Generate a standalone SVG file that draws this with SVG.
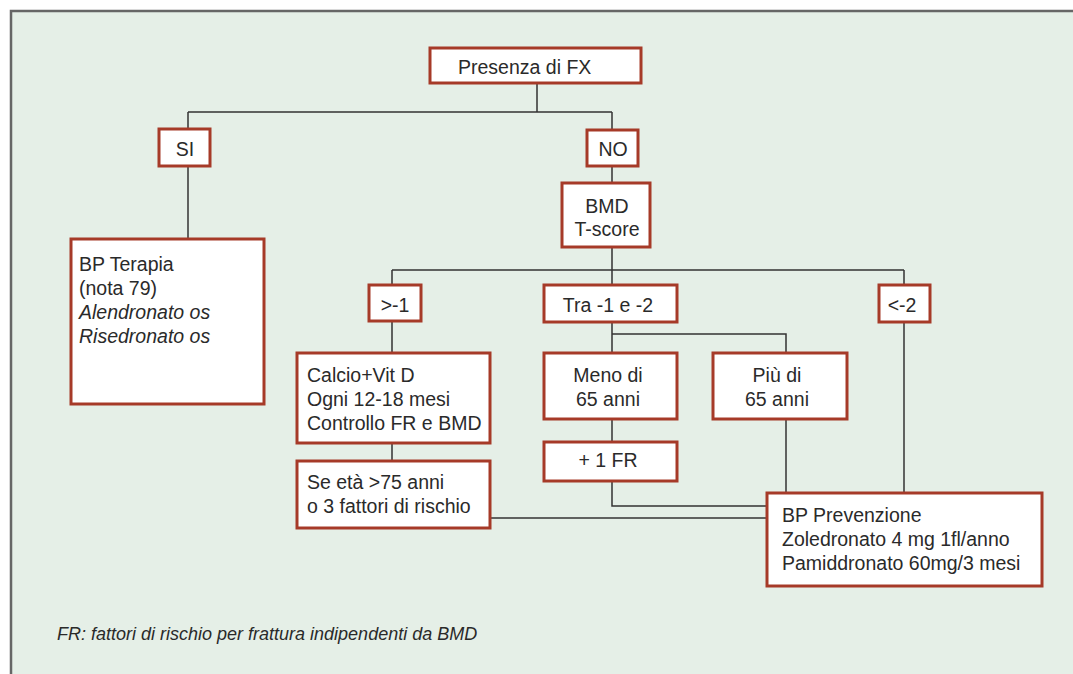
<svg xmlns="http://www.w3.org/2000/svg" width="1073" height="674" viewBox="0 0 1073 674">
<style>
.bg{fill:#e5efe7;stroke:none}
.frame{fill:none;stroke:#666;stroke-width:2.5}
.box{fill:#fff;stroke:#a63a28;stroke-width:3}
.ln{fill:none;stroke:#333;stroke-width:1.5}
text{font-family:"Liberation Sans",Arial,sans-serif;font-size:19.5px;fill:#2a2a2a}
.c{text-anchor:middle}
.i{font-style:italic}
.note{font-size:18px}
</style>
<rect x="0" y="0" width="1073" height="674" fill="#fff"/>
<rect class="bg" x="11" y="11" width="1062" height="663"/>
<path class="frame" d="M11,674 V11 H1073"/>
<g id="connectors">
<path class="ln" d="M537,83 V112 M188,112 H612 M188,112 V129 M612,112 V130"/>
<path class="ln" d="M188,166 V239"/>
<path class="ln" d="M612,166 V183"/>
<path class="ln" d="M612,247 V270 M392,270 H904 M392,270 V285 M612,270 V285 M904,270 V285"/>
<path class="ln" d="M392,321 V353 M392,443 V461"/>
<path class="ln" d="M612,322 V353 M612,334 H786 V353"/>
<path class="ln" d="M612,419 V442"/>
<path class="ln" d="M612,481 V506 H767"/>
<path class="ln" d="M490,518 H767"/>
<path class="ln" d="M786,419 V493"/>
<path class="ln" d="M904,322 V493"/>
</g>
<g id="presenza"><rect class="box" x="430" y="48" width="211" height="35"/><text x="458" y="74">Presenza di FX</text></g>
<g id="si"><rect class="box" x="159" y="129" width="51" height="37"/><text class="c" x="185" y="156">SI</text></g>
<g id="no"><rect class="box" x="587" y="130" width="51" height="36"/><text class="c" x="613" y="156">NO</text></g>
<g id="bmd"><rect class="box" x="562" y="183" width="88" height="64"/><text class="c" x="607" y="213">BMD</text><text class="c" x="607" y="236">T-score</text></g>
<g id="bpterapia"><rect class="box" x="71" y="239" width="193" height="165"/>
<text x="79" y="271">BP Terapia</text><text x="79" y="295">(nota 79)</text><text class="i" x="79" y="319">Alendronato os</text><text class="i" x="79" y="343">Risedronato os</text></g>
<g id="gt1"><rect class="box" x="369" y="285" width="52" height="36"/><text class="c" x="395" y="312">&gt;-1</text></g>
<g id="tra"><rect class="box" x="544" y="285" width="133" height="37"/><text class="c" x="608" y="312">Tra -1 e -2</text></g>
<g id="lt2"><rect class="box" x="879" y="285" width="51" height="37"/><text class="c" x="902" y="312">&lt;-2</text></g>
<g id="calcio"><rect class="box" x="297" y="353" width="193" height="90"/>
<text x="307" y="382">Calcio+Vit D</text><text x="307" y="406">Ogni 12-18 mesi</text><text x="307" y="430">Controllo FR e BMD</text></g>
<g id="meno"><rect class="box" x="544" y="353" width="133" height="66"/><text class="c" x="608" y="382">Meno di</text><text class="c" x="608" y="406">65 anni</text></g>
<g id="piu"><rect class="box" x="713" y="353" width="134" height="66"/><text class="c" x="777" y="382">Più di</text><text class="c" x="777" y="406">65 anni</text></g>
<g id="fr1"><rect class="box" x="544" y="442" width="133" height="39"/><text class="c" x="608" y="467">+ 1 FR</text></g>
<g id="seeta"><rect class="box" x="297" y="461" width="193" height="67"/><text x="307" y="489">Se età &gt;75 anni</text><text x="307" y="513">o 3 fattori di rischio</text></g>
<g id="bpprev"><rect class="box" x="767" y="493" width="275" height="93"/>
<text x="782" y="522">BP Prevenzione</text><text x="782" y="546">Zoledronato 4 mg 1fl/anno</text><text x="782" y="570">Pamiddronato 60mg/3 mesi</text></g>
<text class="i note" x="57" y="640">FR: fattori di rischio per frattura indipendenti da BMD</text>
</svg>
